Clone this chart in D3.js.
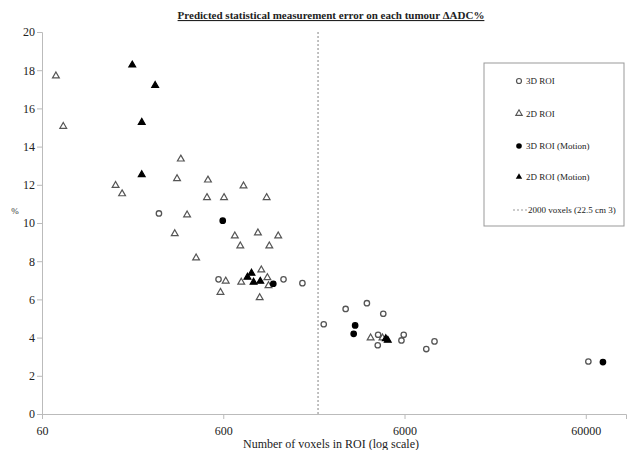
<!DOCTYPE html>
<html>
<head>
<meta charset="utf-8">
<script src="https://cdn.jsdelivr.net/npm/d3@7"></script>
<style>
  body { margin: 0; background: #fff; }
  svg { display: block; font-family: "Liberation Serif", "Times New Roman", serif; }
</style>
</head>
<body>
<svg id="chart"></svg>
<script>
// values: [voxels, % error]
let roi3d = [[265, 10.5], [565, 7.05], [1290, 7.05], [1640, 6.85], [2150, 4.7], [2840, 5.5],
  [3720, 5.8], [4580, 5.25], [4290, 4.15], [4270, 3.6], [5940, 4.15], [5770, 3.85],
  [8780, 3.8], [7910, 3.4], [62000, 2.75]]
let roi2d = [[71.6, 17.7], [78.6, 15.06], [350, 13.35], [152.8, 11.97], [166, 11.53], [333.6, 12.32],
  [494, 12.25], [776, 11.94], [488, 11.33], [606, 11.33], [1041, 11.33], [379, 10.42],
  [324, 9.44], [695, 9.32], [932, 9.48], [1206, 9.32], [745, 8.8], [1077, 8.8], [425, 8.17],
  [619, 6.96], [754, 6.9], [973, 7.54], [1051, 7.14], [1066, 6.72], [579, 6.37], [953, 6.09],
  [3900, 3.98], [4535, 3.98]]
let roi3dMotion = [[596, 10.12], [1133, 6.82], [3204, 4.64], [3145, 4.2], [74600, 2.72]]
let roi2dMotion = [[188.8, 18.27], [252.6, 17.2], [213, 15.27], [213, 12.53], [816, 7.16],
  [859, 7.37], [882, 6.9], [960, 6.95], [4730, 3.94], [4850, 3.86]]
let cutoff = 2000
let xTicks = [60, 600, 6000, 60000]
let yTicks = [0, 2, 4, 6, 8, 10, 12, 14, 16, 18, 20]
let legendLabels = ["3D ROI", "2D ROI", "3D ROI (Motion)", "2D ROI (Motion)", "2000 voxels (22.5 cm 3)"]

let width = 627, height = 450
let svg = d3.select('#chart').attr('width', width).attr('height', height)

let x = d3.scaleLog().domain([60, 100000]).range([42, 626])
let y = d3.scaleLinear().domain([0, 20]).range([414, 32])

// title
svg.append('text')
  .attr('x', 331).attr('y', 19)
  .attr('text-anchor', 'middle')
  .attr('font-size', 11).attr('font-weight', 'bold')
  .attr('text-decoration', 'underline')
  .attr('fill', '#222')
  .text('Predicted statistical measurement error on each tumour \u0394ADC%')

// axes
let xAxis = svg.append('g')
  .attr('transform', 'translate(0,414)')
  .call(d3.axisBottom(x).tickValues(xTicks).tickFormat(d3.format('d')).tickSizeOuter(0).tickSize(5))
let yAxis = svg.append('g')
  .attr('transform', 'translate(42,0)')
  .call(d3.axisLeft(y).tickValues(yTicks).tickSizeOuter(0).tickSize(5))

svg.selectAll('g').attr('font-family', '"Liberation Serif", serif')
svg.selectAll('.domain').attr('stroke', '#bbb')
svg.selectAll('.tick line').attr('stroke', '#bbb')
svg.selectAll('.tick text')
  .attr('font-size', 12).attr('fill', '#222')
xAxis.selectAll('.tick text').attr('dy', '1.05em')
yAxis.selectAll('.tick text').attr('x', -7)

svg.append('text')
  .attr('x', 331).attr('y', 448)
  .attr('text-anchor', 'middle')
  .attr('font-size', 12).attr('fill', '#222')
  .text('Number of voxels in ROI (log scale)')
svg.append('text')
  .attr('x', 15).attr('y', 214)
  .attr('text-anchor', 'middle')
  .attr('font-size', 9).attr('fill', '#333')
  .text('%')

// 2000 voxel cutoff
svg.append('line')
  .attr('x1', x(cutoff)).attr('x2', x(cutoff))
  .attr('y1', y(20)).attr('y2', y(0))
  .attr('stroke', '#999').attr('stroke-width', 1.2)
  .attr('stroke-dasharray', '2,2')

let tri = d3.symbol(d3.symbolTriangle).size(20)

function drawCircles(data, fill) {
  svg.append('g').selectAll('circle')
    .data(data).enter()
    .append('circle')
    .attr('cx', d => x(d[0]))
    .attr('cy', d => y(d[1]))
    .attr('r', 2.7)
    .attr('fill', fill)
    .attr('stroke', fill == '#fff' ? '#555' : '#000')
    .attr('stroke-width', 1.3)
}
function drawTriangles(data, fill) {
  svg.append('g').selectAll('path')
    .data(data).enter()
    .append('path')
    .attr('d', tri)
    .attr('transform', d => 'translate(' + x(d[0]) + ',' + y(d[1]) + ')')
    .attr('fill', fill)
    .attr('stroke', fill == '#fff' ? '#555' : '#000')
    .attr('stroke-width', 1.2)
}

drawTriangles(roi2d, '#fff')
drawCircles(roi3d, '#fff')
drawTriangles(roi2dMotion, '#000')
drawCircles(roi3dMotion, '#000')

// legend
let lg = svg.append('g')
lg.append('rect')
  .attr('x', 484).attr('y', 63).attr('width', 140).attr('height', 163)
  .attr('fill', '#fff').attr('stroke', '#999').attr('stroke-width', 1)

let rows = [81, 113.5, 146, 177, 210]
lg.append('circle').attr('cx', 519).attr('cy', rows[0]).attr('r', 2.5)
  .attr('fill', '#fff').attr('stroke', '#555').attr('stroke-width', 1.2)
lg.append('path').attr('d', d3.symbol(d3.symbolTriangle).size(18))
  .attr('transform', 'translate(519,' + rows[1] + ')')
  .attr('fill', '#fff').attr('stroke', '#555').attr('stroke-width', 1.1)
lg.append('circle').attr('cx', 519).attr('cy', rows[2]).attr('r', 2.8).attr('fill', '#000')
lg.append('path').attr('d', d3.symbol(d3.symbolTriangle).size(18))
  .attr('transform', 'translate(519,' + rows[3] + ')').attr('fill', '#000')
lg.append('line').attr('x1', 513).attr('x2', 527).attr('y1', rows[4]).attr('y2', rows[4])
  .attr('stroke', '#999').attr('stroke-width', 1.2).attr('stroke-dasharray', '2,2')

lg.selectAll('text.lab')
  .data(legendLabels).enter()
  .append('text')
  .attr('class', 'lab')
  .attr('x', (d, i) => i == 4 ? 528 : 526)
  .attr('y', (d, i) => rows[i] + 3)
  .attr('font-size', 9).attr('fill', '#222')
  .text(d => d)
</script>
</body>
</html>
